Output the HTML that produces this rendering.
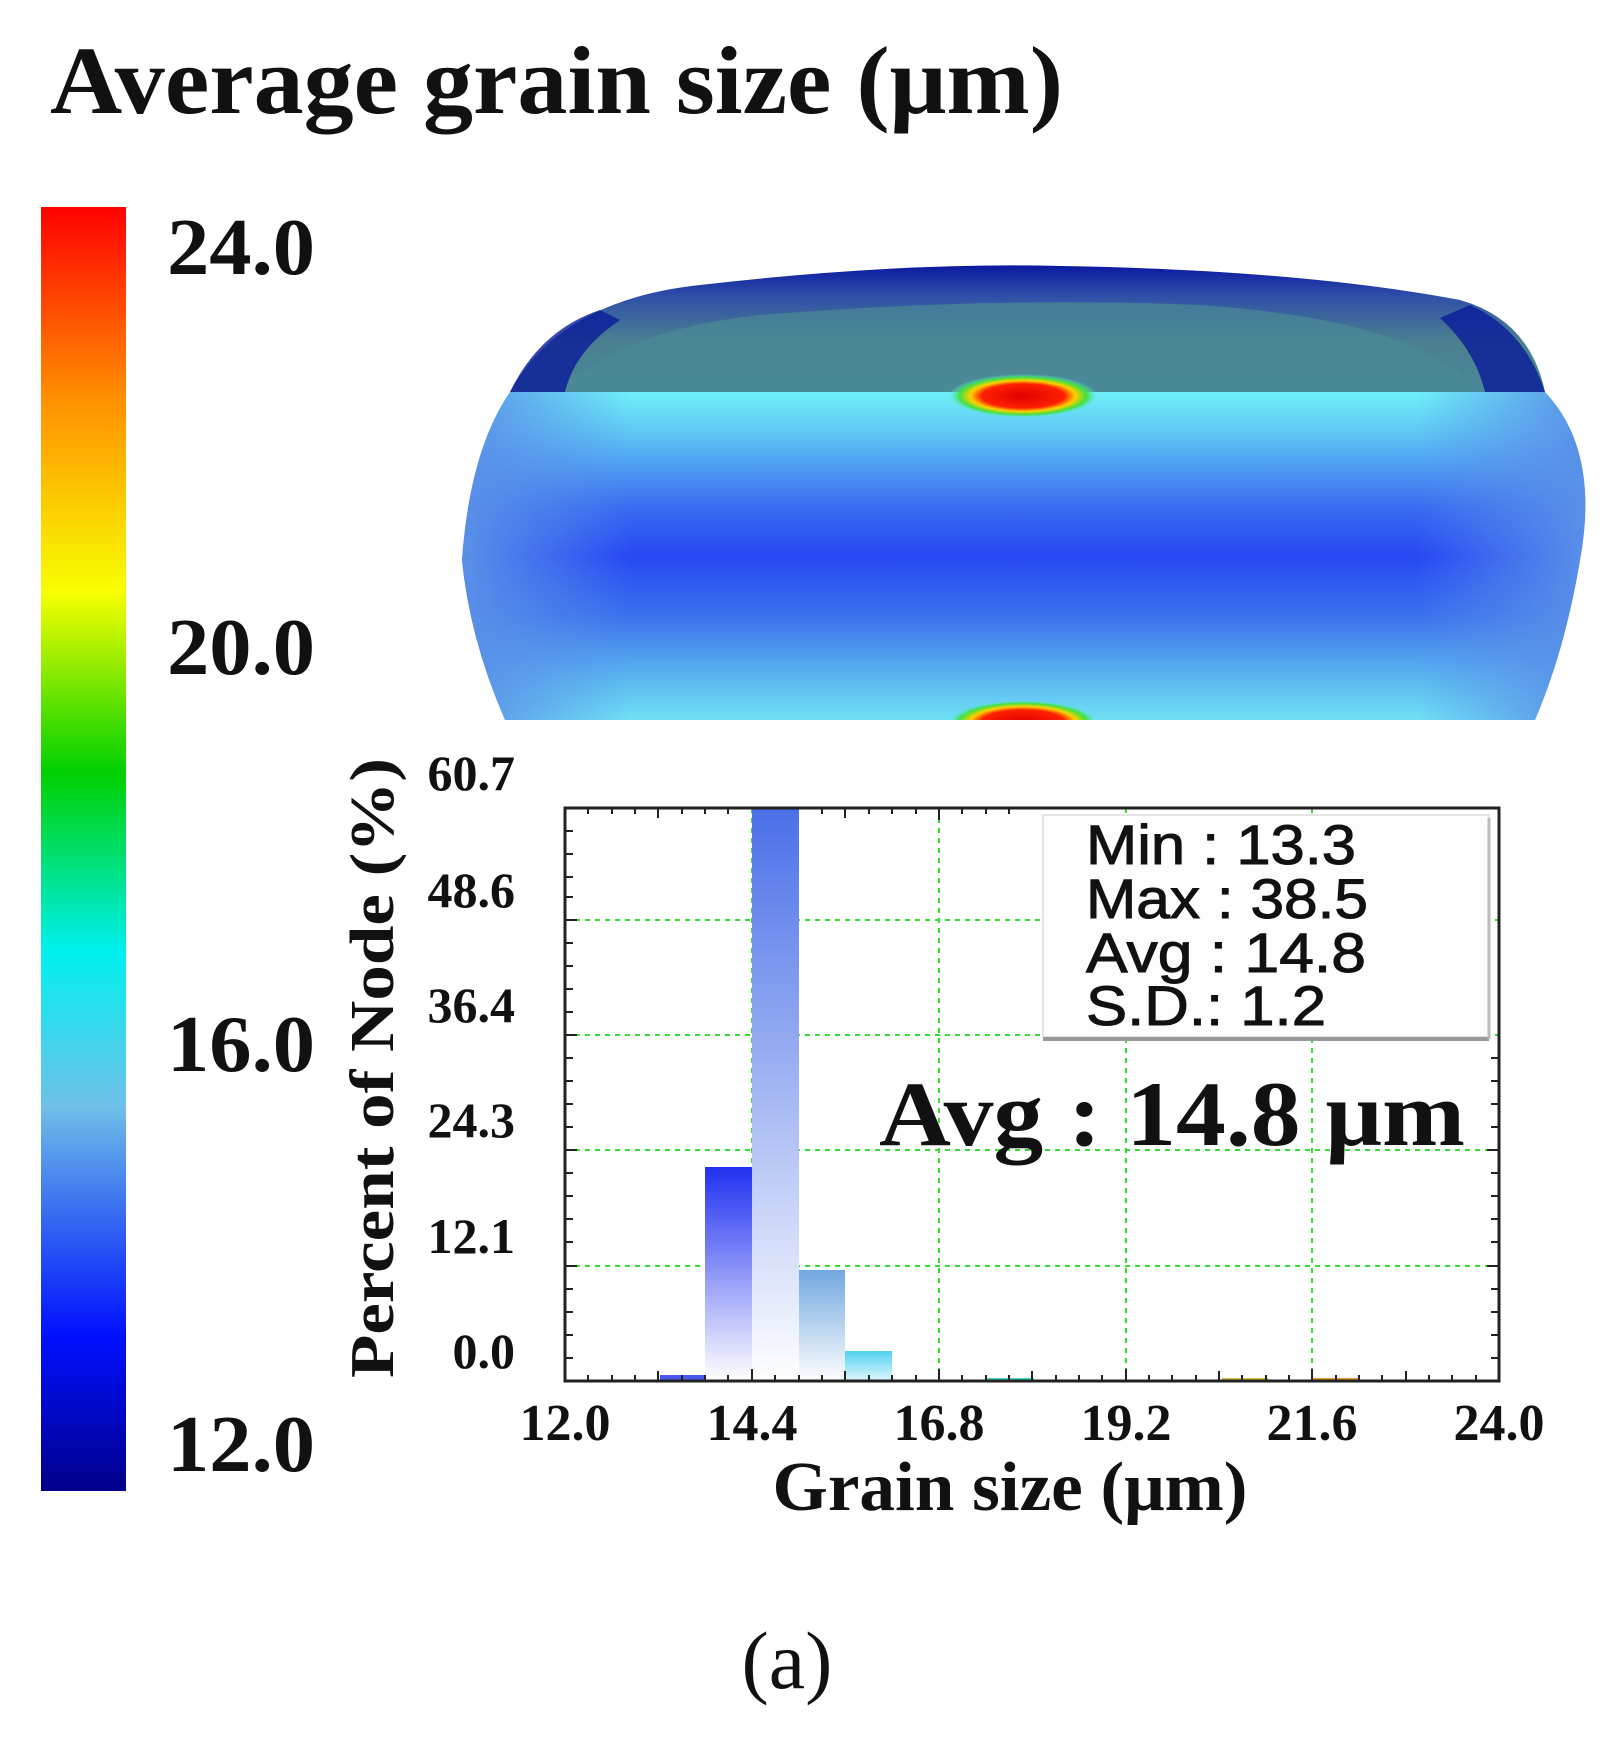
<!DOCTYPE html>
<html><head><meta charset="utf-8"><style>
html,body{margin:0;padding:0;background:#fff;}
svg{display:block}
.serif{font-family:"Liberation Serif",serif;font-weight:bold;fill:#111}
.sans{font-family:"Liberation Sans",sans-serif;fill:#111}
</style></head><body>
<svg width="1603" height="1744" viewBox="0 0 1603 1744" xmlns="http://www.w3.org/2000/svg">
<defs>
<linearGradient id="cb" x1="0" y1="1" x2="0" y2="0">
<stop offset="0" stop-color="#00008a"/>
<stop offset="0.12" stop-color="#0010ff"/>
<stop offset="0.22" stop-color="#3a70f0"/>
<stop offset="0.3" stop-color="#70c0e8"/>
<stop offset="0.42" stop-color="#00f0f0"/>
<stop offset="0.56" stop-color="#00d000"/>
<stop offset="0.7" stop-color="#f8ff00"/>
<stop offset="0.85" stop-color="#ff9000"/>
<stop offset="1" stop-color="#ff0000"/>
</linearGradient>
<linearGradient id="body" x1="0" y1="0" x2="0" y2="1">
<stop offset="0" stop-color="#70f0f8"/>
<stop offset="0.12" stop-color="#60c8f4"/>
<stop offset="0.35" stop-color="#3a6cf0"/>
<stop offset="0.5" stop-color="#2848f4"/>
<stop offset="0.68" stop-color="#3a70ec"/>
<stop offset="0.9" stop-color="#60c0f0"/>
<stop offset="1" stop-color="#70e0f4"/>
</linearGradient>
<linearGradient id="sideL" x1="0" y1="0" x2="1" y2="0">
<stop offset="0" stop-color="#5a90e8" stop-opacity="1"/>
<stop offset="0.15" stop-color="#5a90e8" stop-opacity="0"/>
<stop offset="0.85" stop-color="#5a90e8" stop-opacity="0"/>
<stop offset="1" stop-color="#5a90e8" stop-opacity="1"/>
</linearGradient>
<linearGradient id="cap" x1="0" y1="0" x2="0" y2="1">
<stop offset="0" stop-color="#0a1aa0"/>
<stop offset="0.25" stop-color="#3050a8"/>
<stop offset="0.6" stop-color="#4a8090"/>
<stop offset="1" stop-color="#4a8898"/>
</linearGradient>
<radialGradient id="hot" cx="0.5" cy="0.5" r="0.5">
<stop offset="0" stop-color="#e00000"/>
<stop offset="0.55" stop-color="#ff2000"/>
<stop offset="0.7" stop-color="#ffd000"/>
<stop offset="0.85" stop-color="#40e040"/>
<stop offset="1" stop-color="#60e8f0" stop-opacity="0"/>
</radialGradient>
<linearGradient id="b1" x1="0" y1="0" x2="0" y2="1"><stop offset="0" stop-color="#2030f0"/><stop offset="1" stop-color="#ffffff"/></linearGradient>
<linearGradient id="b2" x1="0" y1="0" x2="0" y2="1"><stop offset="0" stop-color="#4a70e8"/><stop offset="1" stop-color="#ffffff"/></linearGradient>
<linearGradient id="b3" x1="0" y1="0" x2="0" y2="1"><stop offset="0" stop-color="#70a8e0"/><stop offset="1" stop-color="#ffffff"/></linearGradient>
<linearGradient id="b4" x1="0" y1="0" x2="0" y2="1"><stop offset="0" stop-color="#50d0f0"/><stop offset="1" stop-color="#e0f8fc"/></linearGradient>
<clipPath id="clip"><rect x="0" y="0" width="1603" height="720"/></clipPath>
</defs>

<text x="50" y="113" class="serif" font-size="96" textLength="1013" lengthAdjust="spacingAndGlyphs">Average grain size (μm)</text>

<rect x="41" y="207" width="85" height="1284" fill="url(#cb)"/>
<g class="serif" font-size="80">
<text x="167" y="274" textLength="148" lengthAdjust="spacingAndGlyphs">24.0</text>
<text x="167" y="674" textLength="148" lengthAdjust="spacingAndGlyphs">20.0</text>
<text x="167" y="1071" textLength="148" lengthAdjust="spacingAndGlyphs">16.0</text>
<text x="167" y="1471" textLength="148" lengthAdjust="spacingAndGlyphs">12.0</text>
</g>

<!-- specimen -->
<g clip-path="url(#clip)">
<path d="M510 392 Q560 300 700 285 Q900 262 1060 266 Q1300 270 1460 300 Q1530 320 1545 392 Z" fill="url(#cap)"/>
<path d="M560 392 Q620 330 760 315 Q1000 296 1200 305 Q1420 320 1480 392 Z" fill="#4a8a96" opacity="0.7"/>
<path d="M510 392 Q540 330 600 310 L620 320 Q575 350 565 392 Z" fill="#0a1a9a" opacity="0.8"/>
<path d="M1545 392 Q1525 330 1470 305 L1440 318 Q1475 350 1485 392 Z" fill="#0a1a9a" opacity="0.8"/>
<path d="M510 392 L1545 392 Q1600 450 1580 560 Q1565 650 1535 720 L505 720 Q470 640 462 560 Q470 450 510 392 Z" fill="url(#body)"/>
<path d="M510 392 L1545 392 Q1600 450 1580 560 Q1565 650 1535 720 L505 720 Q470 640 462 560 Q470 450 510 392 Z" fill="url(#sideL)"/>
<ellipse cx="1023" cy="396" rx="75" ry="22" fill="url(#hot)"/>
<ellipse cx="1023" cy="722" rx="75" ry="22" fill="url(#hot)"/>
</g>

<!-- plot -->
<g stroke="#33dd33" stroke-width="2" stroke-dasharray="5,5">
<line x1="565" y1="920" x2="1499" y2="920"/>
<line x1="565" y1="1035" x2="1499" y2="1035"/>
<line x1="565" y1="1150" x2="1499" y2="1150"/>
<line x1="565" y1="1266" x2="1499" y2="1266"/>
<line x1="752" y1="808" x2="752" y2="1381"/>
<line x1="939" y1="808" x2="939" y2="1381"/>
<line x1="1126" y1="808" x2="1126" y2="1381"/>
<line x1="1312" y1="808" x2="1312" y2="1381"/>
</g>
<rect x="660" y="1375" width="45" height="6" fill="#4a5af0"/>
<rect x="705" y="1167" width="47" height="214" fill="url(#b1)"/>
<rect x="752" y="808" width="47" height="573" fill="url(#b2)"/>
<rect x="799" y="1270" width="46" height="111" fill="url(#b3)"/>
<rect x="845" y="1351" width="47" height="30" fill="url(#b4)"/>
<rect x="986" y="1378" width="48" height="3" fill="#40d8c0"/>
<rect x="1222" y="1378" width="46" height="3" fill="#d8c040"/>
<rect x="1312" y="1378" width="46" height="3" fill="#e0a030"/>
<g stroke="#222" stroke-width="2">
<path d="M565 1381 v-10 M588 1381 v-6 M612 1381 v-6 M635 1381 v-6 M658 1381 v-10 M682 1381 v-6 M705 1381 v-6 M728 1381 v-6 M752 1381 v-12 M775 1381 v-6 M799 1381 v-6 M822 1381 v-6 M845 1381 v-10 M869 1381 v-6 M892 1381 v-6 M916 1381 v-6 M939 1381 v-12 M962 1381 v-6 M986 1381 v-6 M1009 1381 v-6 M1032 1381 v-10 M1056 1381 v-6 M1079 1381 v-6 M1102 1381 v-6 M1126 1381 v-12 M1149 1381 v-6 M1172 1381 v-6 M1196 1381 v-6 M1219 1381 v-10 M1242 1381 v-6 M1266 1381 v-6 M1289 1381 v-6 M1312 1381 v-12 M1336 1381 v-6 M1359 1381 v-6 M1382 1381 v-6 M1406 1381 v-10 M1429 1381 v-6 M1452 1381 v-6 M1476 1381 v-6"/>
<path d="M565 808 v10 M588 808 v6 M612 808 v6 M635 808 v6 M658 808 v10 M682 808 v6 M705 808 v6 M728 808 v6 M822 808 v6 M845 808 v10 M869 808 v6 M892 808 v6 M916 808 v6 M939 808 v12 M962 808 v6 M986 808 v6 M1009 808 v6"/>
<path d="M565 831 h8 M565 854 h8 M565 877 h8 M565 897 h8 M565 920 h12 M565 943 h8 M565 966 h8 M565 989 h8 M565 1012 h8 M565 1035 h12 M565 1058 h8 M565 1081 h8 M565 1104 h8 M565 1127 h8 M565 1150 h12 M565 1173 h8 M565 1196 h8 M565 1219 h8 M565 1242 h8 M565 1266 h12 M565 1289 h8 M565 1312 h8 M565 1335 h8 M565 1358 h8"/>
<path d="M1499 1058 h-8 M1499 1081 h-8 M1499 1104 h-8 M1499 1127 h-8 M1499 1150 h-12 M1499 1173 h-8 M1499 1196 h-8 M1499 1219 h-8 M1499 1242 h-8 M1499 1266 h-12 M1499 1289 h-8 M1499 1312 h-8 M1499 1335 h-8 M1499 1358 h-8"/>
</g>
<rect x="565" y="808" width="934" height="573" fill="none" stroke="#222" stroke-width="3"/>

<!-- stats box -->
<rect x="1043" y="815" width="446" height="222" fill="#fdfdfd" stroke="#ccc" stroke-width="1"/>
<line x1="1043" y1="1039" x2="1489" y2="1039" stroke="#999" stroke-width="4"/>
<line x1="1489" y1="818" x2="1489" y2="1039" stroke="#bbb" stroke-width="3"/>
<g class="sans" font-size="56" stroke="#111" stroke-width="1">
<text x="1086" y="864" textLength="270" lengthAdjust="spacingAndGlyphs">Min : 13.3</text>
<text x="1086" y="918" textLength="282" lengthAdjust="spacingAndGlyphs">Max : 38.5</text>
<text x="1086" y="972" textLength="280" lengthAdjust="spacingAndGlyphs">Avg : 14.8</text>
<text x="1086" y="1025" textLength="240" lengthAdjust="spacingAndGlyphs">S.D.: 1.2</text>
</g>
<text x="879" y="1145" class="serif" font-size="92" textLength="586" lengthAdjust="spacingAndGlyphs">Avg : 14.8 μm</text>

<g class="serif" font-size="50" text-anchor="end">
<text x="515" y="790">60.7</text>
<text x="515" y="907">48.6</text>
<text x="515" y="1022">36.4</text>
<text x="515" y="1137">24.3</text>
<text x="515" y="1253">12.1</text>
<text x="515" y="1368">0.0</text>
</g>
<text transform="translate(393,1068) rotate(-90)" class="serif" font-size="62" text-anchor="middle" textLength="620" lengthAdjust="spacingAndGlyphs">Percent of Node (%)</text>
<g class="serif" font-size="52" text-anchor="middle">
<text x="565" y="1440">12.0</text>
<text x="752" y="1440">14.4</text>
<text x="939" y="1440">16.8</text>
<text x="1126" y="1440">19.2</text>
<text x="1312" y="1440">21.6</text>
<text x="1499" y="1440">24.0</text>
</g>
<text x="1010" y="1510" class="serif" font-size="70" text-anchor="middle" textLength="475" lengthAdjust="spacingAndGlyphs">Grain size (μm)</text>
<text x="787" y="1688" font-family="Liberation Serif, serif" font-size="82" fill="#111" text-anchor="middle">(a)</text>
</svg>
</body></html>
